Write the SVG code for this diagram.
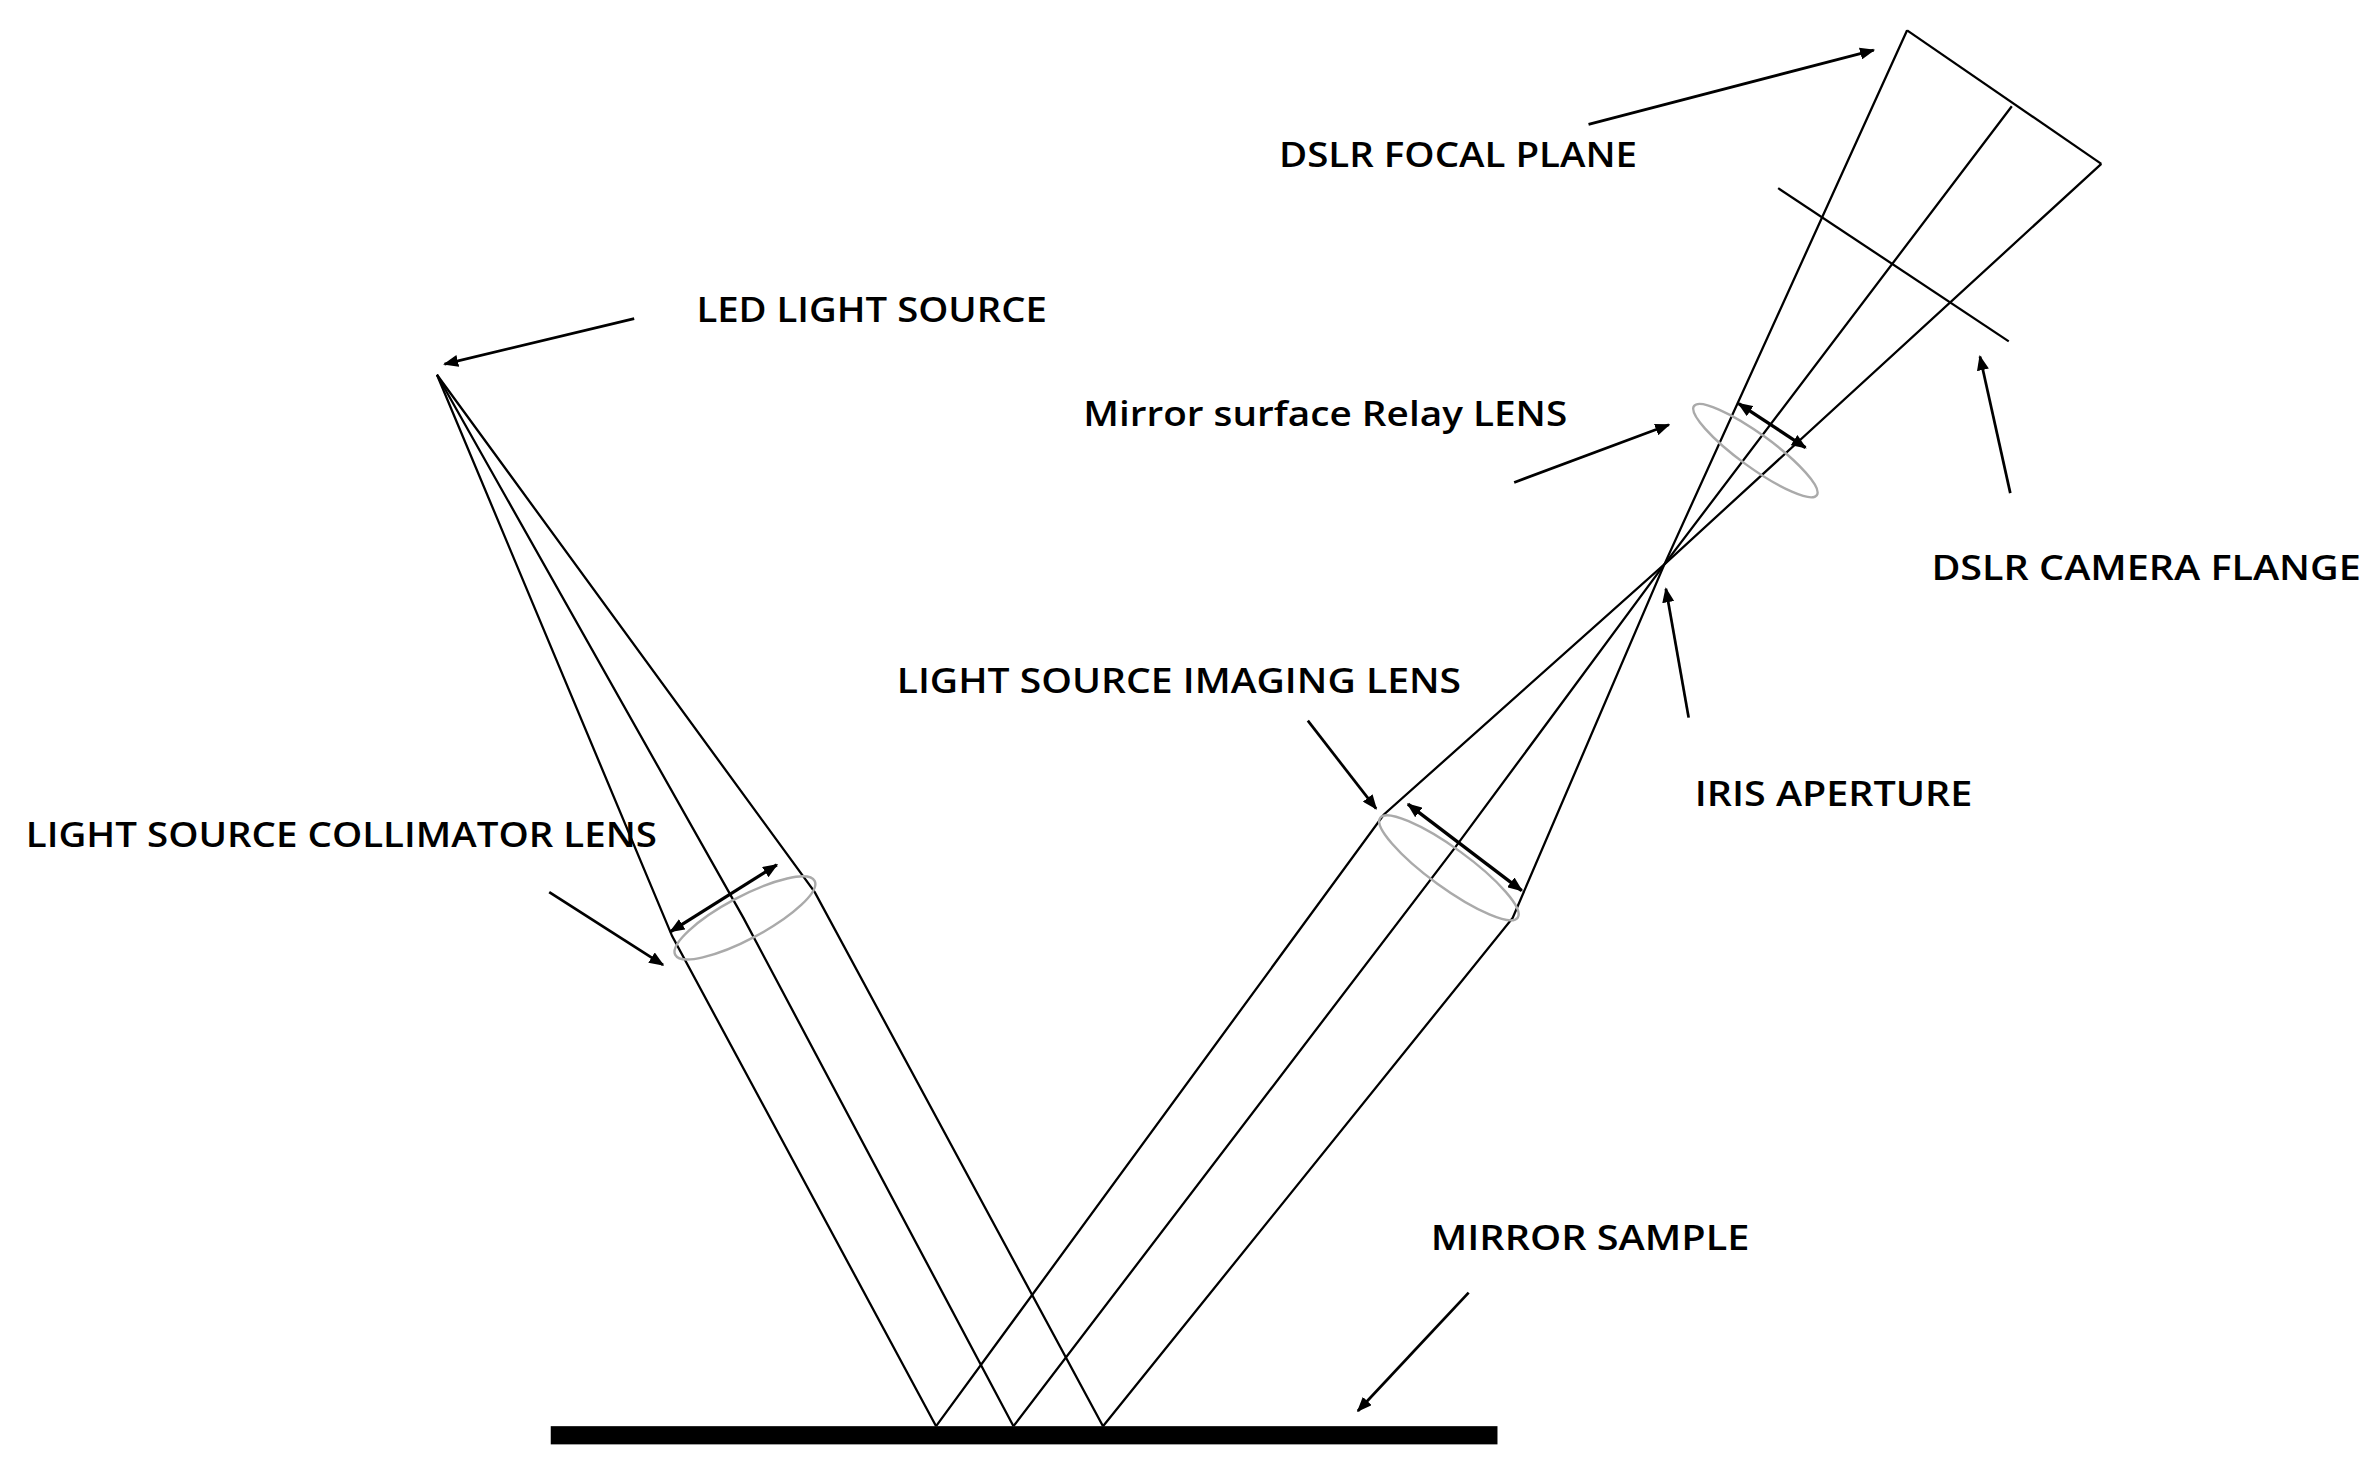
<svg xmlns="http://www.w3.org/2000/svg" width="2379" height="1470" viewBox="0 0 2379 1470">
<style>
.r{stroke:#000;stroke-width:1.5;fill:none}
.p{stroke:#000;stroke-width:1.8;fill:none;marker-end:url(#ah)}
.d{stroke:#000;stroke-width:2.2;fill:none;marker-end:url(#ah);marker-start:url(#as)}
.l{stroke:#aaa;stroke-width:1.6;fill:none}
text{font-family:"Open Sans","Liberation Sans",sans-serif;font-weight:600;font-size:23px;fill:#000}
</style>
<defs>
<marker id="ah" markerWidth="10" markerHeight="8" refX="9" refY="4" orient="auto" markerUnits="userSpaceOnUse"><path d="M0,0 L10,4 L0,8 z" fill="#000"/></marker>
<marker id="as" markerWidth="10" markerHeight="8" refX="1" refY="4" orient="auto" markerUnits="userSpaceOnUse"><path d="M10,0 L0,4 L10,8 z" fill="#000"/></marker>
</defs>
<rect width="2379" height="1470" fill="#fff"/>
<g transform="scale(1.5172)">
<g id="connectors">
<polyline class="r" points="288,247 443,617 617,940"/>
<polyline class="r" points="288,247 490,605 668,940"/>
<polyline class="r" points="288,247 537,588 727,940"/>
<polyline class="r" points="617,940 912,537 1097,372 1257,20"/>
<polyline class="r" points="668,940 958,560 1097,372 1326,70"/>
<polyline class="r" points="727,940 997,605 1097,372 1385,108"/>
<line class="r" x1="1257" y1="20" x2="1385" y2="108"/>
<line class="r" x1="1172" y1="124" x2="1324" y2="225"/>
<line class="d" x1="442" y1="614" x2="512" y2="570"/>
<line class="d" x1="928" y1="530" x2="1003" y2="587"/>
<line class="d" x1="1146" y1="266" x2="1190" y2="295"/>
<line class="p" x1="362" y1="588" x2="437" y2="636"/>
<line class="p" x1="862" y1="475" x2="907" y2="533"/>
<line class="p" x1="998" y1="318" x2="1100" y2="280"/>
<line class="p" x1="1047" y1="82" x2="1235" y2="33"/>
<line class="p" x1="1325" y1="325" x2="1305" y2="235"/>
<line class="p" x1="1113" y1="473" x2="1098" y2="388"/>
<line class="p" x1="418" y1="210" x2="293" y2="240"/>
<line class="p" x1="968" y1="852" x2="895" y2="930"/>
</g>
<g id="collimator-lens"><ellipse class="l" cx="491" cy="605" rx="52" ry="14" transform="rotate(-28 491 605)"/><text x="17" y="558" textLength="416" lengthAdjust="spacingAndGlyphs">LIGHT SOURCE COLLIMATOR LENS</text></g>
<g id="imaging-lens"><ellipse class="l" cx="955" cy="572" rx="56" ry="13" transform="rotate(36 955 572)"/><text x="591" y="457" textLength="372" lengthAdjust="spacingAndGlyphs">LIGHT SOURCE IMAGING LENS</text></g>
<g id="relay-lens"><ellipse class="l" cx="1157" cy="297" rx="50" ry="11" transform="rotate(36 1157 297)"/><text x="714" y="281" textLength="319" lengthAdjust="spacingAndGlyphs">Mirror surface Relay LENS</text></g>
<g id="led"><text x="459" y="212" textLength="231" lengthAdjust="spacingAndGlyphs">LED LIGHT SOURCE</text></g>
<g id="focal-plane"><text x="843" y="110" textLength="236" lengthAdjust="spacingAndGlyphs">DSLR FOCAL PLANE</text></g>
<g id="flange"><text x="1273" y="382" textLength="283" lengthAdjust="spacingAndGlyphs">DSLR CAMERA FLANGE</text></g>
<g id="iris"><text x="1117" y="531" textLength="183" lengthAdjust="spacingAndGlyphs">IRIS APERTURE</text></g>
<g id="mirror"><rect x="363" y="940" width="624" height="12" fill="#000"/><text x="943" y="824" textLength="210" lengthAdjust="spacingAndGlyphs">MIRROR SAMPLE</text></g>
</g>
</svg>
